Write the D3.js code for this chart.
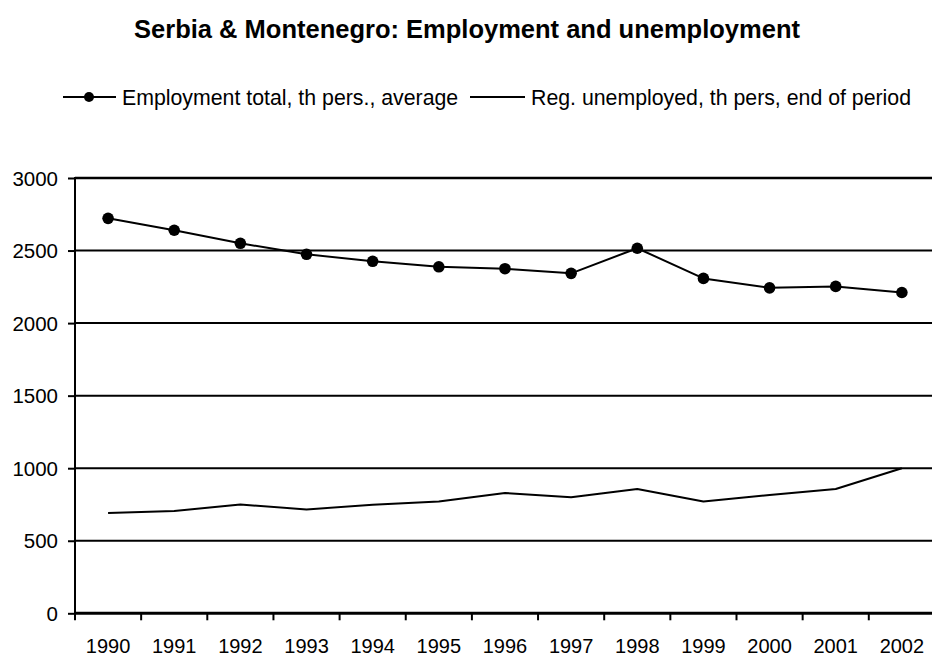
<!DOCTYPE html>
<html>
<head>
<meta charset="utf-8">
<script src="https://cdn.jsdelivr.net/npm/d3@7"></script>
<style>
  html, body { margin: 0; padding: 0; background: #fff; }
  svg { display: block; font-family: "Liberation Sans", Arial, Helvetica, sans-serif; }
</style>
</head>
<body>
<svg id="chart" width="932" height="657"></svg>
<script>
// Years shown on the category axis
const years = ["1990","1991","1992","1993","1994","1995","1996","1997","1998","1999","2000","2001","2002"];
// Employment total, thousand persons, annual average
const employment = [2722, 2640, 2550, 2474, 2426, 2388, 2375, 2343, 2516, 2308, 2243, 2253, 2211];
// Registered unemployed, thousand persons, end of period
const unemployed = [691, 705, 750, 716, 748, 771, 829, 799, 857, 771, 815, 857, 1000];
// Value axis ticks
const yTicks = [0, 500, 1000, 1500, 2000, 2500, 3000];

const titleText = "Serbia & Montenegro: Employment and unemployment";
const legendEmp = "Employment total, th pers., average";
const legendUnemp = "Reg. unemployed, th pers, end of period";

const svg = d3.select("#chart");
const W = 932;
const plotLeft = 75, plotBottom = 613.3, plotTop = 178;
const band = 66.15;

const x = d3.scaleBand().domain(years).range([plotLeft, plotLeft + band * years.length]).padding(0);
const y = d3.scaleLinear().domain([0, 3000]).range([plotBottom, plotTop]);

// Title
svg.append("text")
  .attr("x", 467).attr("y", 38)
  .attr("text-anchor", "middle")
  .attr("font-weight", "bold")
  .attr("font-size", 25.5)
  .text(titleText);

// Legend
const lg = svg.append("g");
lg.append("line").attr("x1", 63).attr("x2", 116).attr("y1", 97).attr("y2", 97)
  .attr("stroke", "#000").attr("stroke-width", 2);
lg.append("circle").attr("cx", 89).attr("cy", 97).attr("r", 5).attr("fill", "#000");
lg.append("text").attr("x", 122).attr("y", 104.5).attr("font-size", 21.3).text(legendEmp);
lg.append("line").attr("x1", 470).attr("x2", 525).attr("y1", 97).attr("y2", 97)
  .attr("stroke", "#000").attr("stroke-width", 2);
lg.append("text").attr("x", 531).attr("y", 104.5).attr("font-size", 21.3).text(legendUnemp);

// Horizontal gridlines
svg.append("g").selectAll("line")
  .data(yTicks.filter(d => d > 0))
  .join("line")
  .attr("x1", plotLeft).attr("x2", W)
  .attr("y1", d => y(d)).attr("y2", d => y(d))
  .attr("stroke", "#000")
  .attr("stroke-width", d => d === 3000 ? 2.5 : 2);

// Value axis
const yAxis = d3.axisLeft(y).tickValues(yTicks).tickSize(7).tickPadding(10).tickFormat(d3.format("d"));
const gy = svg.append("g").attr("transform", `translate(${plotLeft},0)`).call(yAxis);
gy.select(".domain").remove();
gy.selectAll(".tick line").attr("stroke", "#000").attr("stroke-width", 2);
gy.selectAll(".tick text").attr("font-size", 20.5).attr("fill", "#000")
  .attr("font-family", "'Liberation Sans', Arial, sans-serif").attr("dy", "0.35em");
svg.append("line").attr("x1", plotLeft).attr("x2", plotLeft).attr("y1", plotTop - 1).attr("y2", plotBottom + 1)
  .attr("stroke", "#000").attr("stroke-width", 2);

// Category axis: baseline, ticks between categories, labels centered on bands
svg.append("line").attr("x1", plotLeft).attr("x2", W).attr("y1", plotBottom).attr("y2", plotBottom)
  .attr("stroke", "#000").attr("stroke-width", 3);
const boundaries = years.map(d => x(d));
svg.append("g").selectAll("line").data(boundaries).join("line")
  .attr("x1", d => d).attr("x2", d => d)
  .attr("y1", plotBottom).attr("y2", plotBottom + 7)
  .attr("stroke", "#000").attr("stroke-width", 2);
svg.append("g").selectAll("text").data(years).join("text")
  .attr("x", d => x(d) + x.bandwidth() / 2)
  .attr("y", 653)
  .attr("text-anchor", "middle")
  .attr("font-size", 20)
  .text(d => d);

const cx = d => x(d) + x.bandwidth() / 2;
const line = d3.line().x((v, i) => cx(years[i])).y(v => y(v));

// Unemployment line
svg.append("path").datum(unemployed)
  .attr("d", line).attr("fill", "none")
  .attr("stroke", "#000").attr("stroke-width", 2).attr("stroke-linejoin", "round");

// Employment line with markers
svg.append("path").datum(employment)
  .attr("d", line).attr("fill", "none")
  .attr("stroke", "#000").attr("stroke-width", 2).attr("stroke-linejoin", "round");
svg.append("g").selectAll("circle").data(employment).join("circle")
  .attr("cx", (v, i) => cx(years[i]))
  .attr("cy", v => y(v))
  .attr("r", 5.8)
  .attr("fill", "#000");
</script>
</body>
</html>
